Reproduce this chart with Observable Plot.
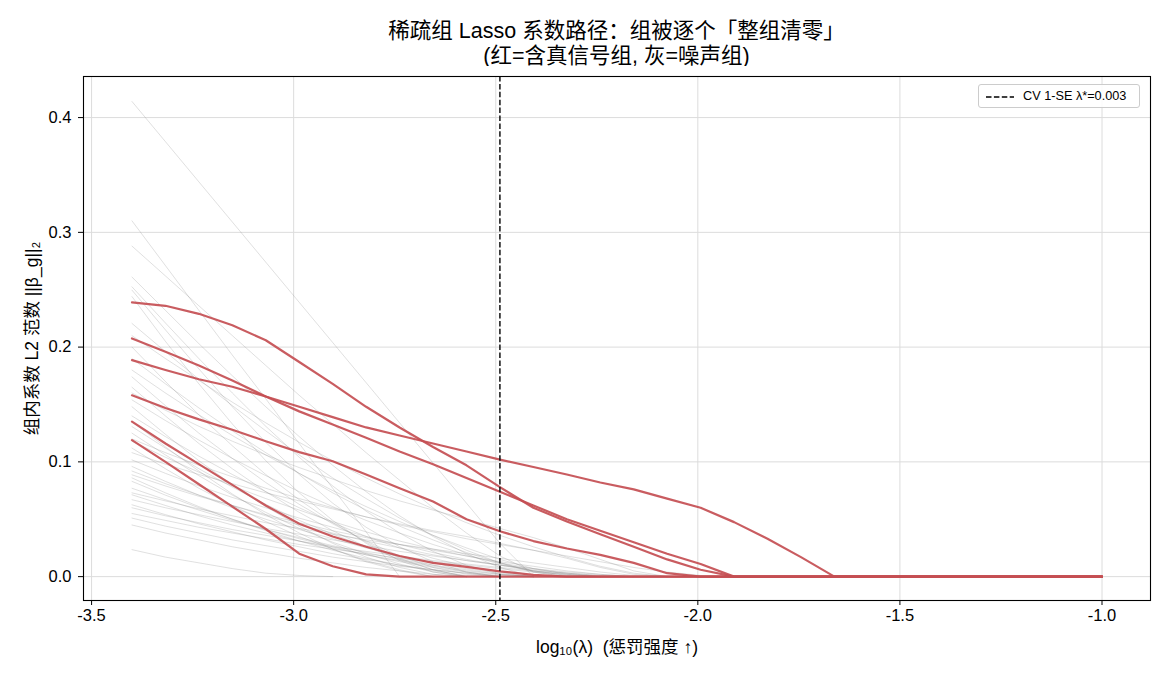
<!DOCTYPE html>
<html>
<head>
<meta charset="utf-8">
<script src="https://cdn.jsdelivr.net/npm/d3@7"></script>
<script src="https://cdn.jsdelivr.net/npm/@observablehq/plot@0.6"></script>
<style>
  body { margin: 0; background: #fff; font-family: "Liberation Sans", Arial, "Noto Sans CJK SC", sans-serif; }
  #wrap { position: relative; width: 1170px; height: 676px; }
  #title { position: absolute; left: 83px; width: 1067px; top: 19px; text-align: center; font-size: 21.5px; line-height: 25px; color: #000; }
  #chart { position: absolute; left: 0; top: 66px; }
  #legend { position: absolute; left: 978px; top: 84px; width: 162px; height: 24px; border: 1px solid #cccccc; border-radius: 3px; background: rgba(255,255,255,0.85); font-size: 12.7px; box-sizing: border-box; }
  #legend svg { position: absolute; left: 7px; top: 10px; }
  #legend span { position: absolute; left: 44px; top: 4px; color: #000; white-space: nowrap; }
</style>
</head>
<body>
<div id="wrap">
  <div id="title">稀疏组 Lasso 系数路径：组被逐个「整组清零」<br>(红=含真信号组, 灰=噪声组)</div>
  <div id="chart"></div>
  <div id="legend"><svg width="28" height="4"><line x1="0" y1="2" x2="28" y2="2" stroke="#000" stroke-width="1.5" stroke-dasharray="5.5,2.4"/></svg><span>CV 1-SE λ*=0.003</span></div>
</div>
<script>
// log10(lambda) grid (30 points)
const logLambda = [-3.4, -3.3172, -3.2345, -3.1517, -3.0690, -2.9862, -2.9034, -2.8207, -2.7379, -2.6552,
  -2.5724, -2.4897, -2.4069, -2.3241, -2.2414, -2.1586, -2.0759, -1.9931, -1.9103, -1.8276,
  -1.7448, -1.6621, -1.5793, -1.4966, -1.4138, -1.3310, -1.2483, -1.1655, -1.0828, -1.0];

// CV 1-SE choice
const cvLogLambda = -2.4897;
const cvLabel = "CV 1-SE λ*=0.003";

// axis labels
const xLabel = "log₁₀(λ)  (惩罚强度 ↑)";
const yLabel = "组内系数 L2 范数 ||β_g||₂";

// true-signal groups (red): ||beta_g||2 at each lambda
const signalA = [0.239, 0.236, 0.229, 0.219, 0.206, 0.187, 0.168, 0.148, 0.130, 0.113, 0.097, 0.078, 0.060, 0.048, 0.037, 0.026, 0.015, 0.006, 0, 0, 0, 0, 0, 0, 0, 0, 0, 0, 0, 0];
const signalB = [0.2075, 0.196, 0.184, 0.171, 0.157, 0.144, 0.1325, 0.121, 0.109, 0.098, 0.086, 0.074, 0.062, 0.050, 0.040, 0.030, 0.020, 0.011, 0, 0, 0, 0, 0, 0, 0, 0, 0, 0, 0, 0];
const signalC = [0.1887, 0.180, 0.172, 0.1655, 0.157, 0.148, 0.139, 0.130, 0.123, 0.116, 0.109, 0.102, 0.0955, 0.089, 0.082, 0.076, 0.068, 0.060, 0.0475, 0.033, 0.017, 0, 0, 0, 0, 0, 0, 0, 0, 0];
const signalD = [0.158, 0.147, 0.137, 0.128, 0.118, 0.1085, 0.1005, 0.089, 0.077, 0.0655, 0.050, 0.0395, 0.031, 0.0245, 0.019, 0.012, 0.003, 0, 0, 0, 0, 0, 0, 0, 0, 0, 0, 0, 0, 0];
const signalE = [0.135, 0.116, 0.098, 0.080, 0.062, 0.046, 0.035, 0.026, 0.018, 0.012, 0.0085, 0.0046, 0.0015, 0, 0, 0, 0, 0, 0, 0, 0, 0, 0, 0, 0, 0, 0, 0, 0, 0];
const signalF = [0.119, 0.100, 0.0805, 0.061, 0.0415, 0.020, 0.009, 0.002, 0, 0, 0, 0, 0, 0, 0, 0, 0, 0, 0, 0, 0, 0, 0, 0, 0, 0, 0, 0, 0, 0];
const signalGroups = [signalA, signalB, signalC, signalD, signalE, signalF];

// noise groups (gray): values from the first lambda until the group is zeroed
const noiseGroups = [
  [0.414, 0.379, 0.344, 0.309, 0.274, 0.239, 0.204, 0.169, 0.134, 0.099, 0.064, 0.029, 0],
  [0.310, 0.271, 0.232, 0.193, 0.155, 0.116, 0.077, 0.039, 0],
  [0.288, 0.262, 0.236, 0.210, 0.184, 0.158, 0.133, 0.108, 0.084, 0.060, 0.038, 0.018, 0.004, 0],
  [0.261, 0.232, 0.203, 0.175, 0.148, 0.122, 0.097, 0.074, 0.053, 0.035, 0.020, 0.008, 0],
  [0.2525, 0.221, 0.190, 0.160, 0.131, 0.104, 0.079, 0.057, 0.038, 0.022, 0.010, 0.002, 0],
  [0.2496, 0.215, 0.181, 0.148, 0.117, 0.089, 0.064, 0.043, 0.026, 0.013, 0.004, 0],
  [0.244, 0.205, 0.168, 0.133, 0.101, 0.073, 0.049, 0.029, 0.014, 0.004, 0],
  [0.2206, 0.196, 0.172, 0.149, 0.127, 0.106, 0.086, 0.068, 0.051, 0.036, 0.023, 0.012, 0.004, 0],
  [0.210, 0.190, 0.171, 0.152, 0.134, 0.117, 0.101, 0.086, 0.072, 0.059, 0.047, 0.036, 0.026, 0.017, 0.009, 0.003, 0],
  [0.200, 0.170, 0.141, 0.114, 0.089, 0.067, 0.047, 0.030, 0.016, 0.006, 0],
  [0.190, 0.168, 0.147, 0.127, 0.108, 0.090, 0.073, 0.058, 0.044, 0.032, 0.021, 0.012, 0.005, 0.001, 0],
  [0.180, 0.160, 0.141, 0.123, 0.106, 0.090, 0.075, 0.061, 0.048, 0.036, 0.025, 0.015, 0.007, 0.002, 0],
  [0.174, 0.149, 0.125, 0.103, 0.082, 0.063, 0.046, 0.031, 0.018, 0.008, 0.002, 0],
  [0.165, 0.140, 0.116, 0.094, 0.074, 0.056, 0.040, 0.026, 0.015, 0.006, 0],
  [0.160, 0.145, 0.131, 0.118, 0.106, 0.095, 0.085, 0.075, 0.066, 0.058, 0.050, 0.042, 0.034, 0.025, 0.015, 0.005, 0],
  [0.154, 0.136, 0.119, 0.103, 0.088, 0.074, 0.061, 0.049, 0.038, 0.028, 0.019, 0.011, 0.005, 0.001, 0],
  [0.148, 0.124, 0.101, 0.080, 0.061, 0.044, 0.029, 0.017, 0.008, 0.002, 0],
  [0.140, 0.122, 0.105, 0.089, 0.074, 0.060, 0.047, 0.035, 0.025, 0.016, 0.009, 0.004, 0],
  [0.135, 0.113, 0.092, 0.072, 0.054, 0.038, 0.024, 0.013, 0.005, 0],
  [0.1307, 0.112, 0.094, 0.078, 0.063, 0.049, 0.037, 0.026, 0.017, 0.010, 0.004, 0],
  [0.125, 0.106, 0.088, 0.071, 0.056, 0.042, 0.030, 0.020, 0.011, 0.004, 0],
  [0.120, 0.108, 0.097, 0.087, 0.077, 0.068, 0.060, 0.052, 0.045, 0.039, 0.033, 0.028, 0.023, 0.018, 0.013, 0.008, 0.004, 0.001, 0],
  [0.118, 0.104, 0.091, 0.079, 0.068, 0.058, 0.048, 0.039, 0.031, 0.024, 0.018, 0.012, 0.007, 0.003, 0],
  [0.112, 0.094, 0.077, 0.062, 0.048, 0.035, 0.024, 0.014, 0.006, 0],
  [0.108, 0.098, 0.089, 0.081, 0.073, 0.066, 0.059, 0.052, 0.046, 0.040, 0.035, 0.029, 0.023, 0.016, 0.008, 0.002, 0],
  [0.1017, 0.090, 0.079, 0.069, 0.060, 0.051, 0.043, 0.035, 0.028, 0.021, 0.015, 0.010, 0.005, 0.002, 0],
  [0.096, 0.083, 0.071, 0.060, 0.050, 0.041, 0.033, 0.025, 0.018, 0.012, 0.007, 0.003, 0],
  [0.092, 0.081, 0.071, 0.062, 0.053, 0.045, 0.038, 0.031, 0.025, 0.019, 0.014, 0.010, 0.006, 0.003, 0.001, 0],
  [0.0887, 0.079, 0.070, 0.062, 0.054, 0.047, 0.040, 0.034, 0.028, 0.023, 0.018, 0.013, 0.009, 0.005, 0.002, 0],
  [0.086, 0.073, 0.061, 0.050, 0.040, 0.031, 0.023, 0.016, 0.010, 0.005, 0.001, 0],
  [0.083, 0.071, 0.060, 0.050, 0.041, 0.033, 0.026, 0.019, 0.013, 0.008, 0.004, 0.001, 0],
  [0.077, 0.067, 0.058, 0.049, 0.041, 0.034, 0.027, 0.021, 0.015, 0.010, 0.006, 0.002, 0],
  [0.073, 0.066, 0.059, 0.053, 0.047, 0.042, 0.037, 0.032, 0.028, 0.024, 0.020, 0.016, 0.012, 0.008, 0.004, 0.001, 0],
  [0.0713, 0.062, 0.053, 0.045, 0.038, 0.031, 0.025, 0.019, 0.014, 0.009, 0.005, 0.002, 0],
  [0.067, 0.060, 0.054, 0.048, 0.042, 0.037, 0.032, 0.027, 0.022, 0.018, 0.014, 0.010, 0.007, 0.004, 0.002, 0],
  [0.0626, 0.054, 0.046, 0.039, 0.032, 0.026, 0.020, 0.015, 0.010, 0.006, 0.003, 0],
  [0.060, 0.053, 0.047, 0.041, 0.036, 0.031, 0.026, 0.022, 0.018, 0.014, 0.011, 0.008, 0.005, 0.003, 0.001, 0],
  [0.055, 0.049, 0.043, 0.038, 0.033, 0.028, 0.024, 0.020, 0.016, 0.013, 0.010, 0.007, 0.004, 0.002, 0],
  [0.051, 0.044, 0.038, 0.032, 0.027, 0.022, 0.017, 0.013, 0.009, 0.006, 0.003, 0],
  [0.045, 0.038, 0.032, 0.026, 0.021, 0.016, 0.012, 0.008, 0.005, 0.002, 0],
  [0.0235, 0.017, 0.012, 0.007, 0.003, 0.001, 0]
];

// axis ticks
const xTicks = [-3.5, -3.0, -2.5, -2.0, -1.5, -1.0];
const yTicks = [0.0, 0.1, 0.2, 0.3, 0.4];

function toRows(groups, prefix) {
  const rows = [];
  groups.forEach((vals, g) => vals.forEach((v, i) => rows.push({x: logLambda[i], y: v, g: prefix + g})));
  return rows;
}
const noiseRows = toRows(noiseGroups, "n");
const signalRows = toRows(signalGroups, "s");

const chart = Plot.plot({
  width: 1170,
  height: 610,
  marginTop: 10,
  marginBottom: 76,
  marginLeft: 83,
  marginRight: 20,
  style: {fontFamily: '"Liberation Sans", Arial, "Noto Sans CJK SC", sans-serif', color: "#000", background: "#fff"},
  x: {domain: [-3.52, -0.88]},
  y: {domain: [-0.0208, 0.4358]},
  marks: [
    Plot.gridX(xTicks, {stroke: "#dcdcdc", strokeOpacity: 1, strokeWidth: 1}),
    Plot.gridY(yTicks, {stroke: "#dcdcdc", strokeOpacity: 1, strokeWidth: 1}),
    Plot.line(noiseRows, {x: "x", y: "y", z: "g", stroke: "gray", strokeOpacity: 0.28, strokeWidth: 0.9}),
    Plot.line(signalRows, {x: "x", y: "y", z: "g", stroke: "#c44e52", strokeOpacity: 0.92, strokeWidth: 2.2}),
    Plot.ruleX([cvLogLambda], {stroke: "#111", strokeWidth: 1.5, strokeDasharray: "5.5,2.4"}),
    Plot.frame({stroke: "#000", strokeWidth: 1.1}),
    Plot.axisX(xTicks, {tickSize: 5, tickPadding: 4, fontSize: 16.5, tickFormat: d => d.toFixed(1), label: null}),
    Plot.axisY(yTicks, {tickSize: 5, tickPadding: 7, fontSize: 16.5, tickFormat: d => d.toFixed(1), label: null}),
    Plot.text([xLabel], {text: d => d, frameAnchor: "bottom", dy: 47, fontSize: 17.5, lineAnchor: "middle", textAnchor: "middle", fill: "#000"}),
    Plot.text([yLabel], {text: d => d, frameAnchor: "left", dx: -51, rotate: -90, fontSize: 17.5, lineAnchor: "middle", textAnchor: "middle", fill: "#000"})
  ]
});
document.getElementById("chart").appendChild(chart);
</script>
</body>
</html>
